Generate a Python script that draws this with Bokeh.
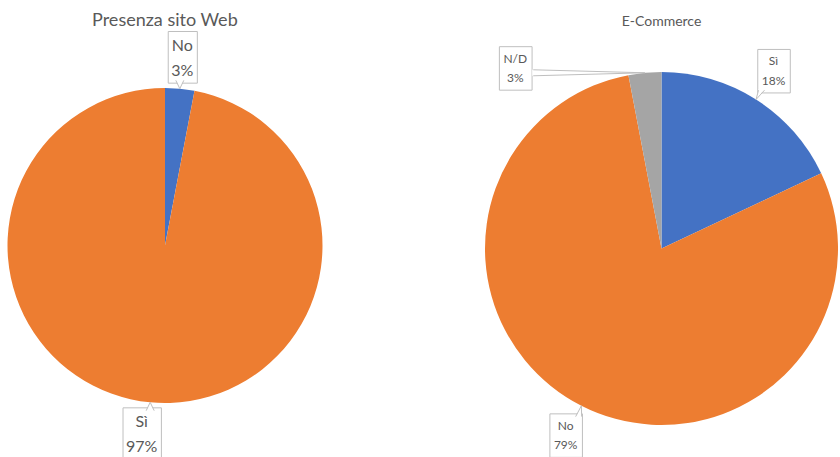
import math
from bokeh.plotting import figure
from bokeh.models import Range1d
from bokeh.core.properties import value
from bokeh.embed import file_html
from bokeh.resources import INLINE

# ---------------- data ----------------
web_title = "Presenza sito Web"
web_cats = ["No", "Sì"]
web_vals = [3, 97]
web_colors = ["#4472C4", "#ED7D31"]

ecom_title = "E-Commerce"
ecom_cats = ["Sì", "No", "N/D"]
ecom_vals = [18, 79, 3]
ecom_colors = ["#4472C4", "#ED7D31", "#A5A5A5"]

# ---------------- layout ----------------
W, H = 840, 457
FONT = "Lato"
TXT = "#595959"
BORDER = "#BFBFBF"


def Y(sy):
    return H - sy


p = figure(width=W, height=H, x_range=Range1d(0, W), y_range=Range1d(0, H),
           output_backend="svg", toolbar_location=None, min_border=0)
p.axis.visible = False
p.grid.visible = False
p.outline_line_color = None
p.background_fill_color = "white"
p.border_fill_color = "white"


def pie(cx, cy, r, cats, vals, colors, title, title_y, title_size,
        label_dist, label_shift, box_size, font_size, line_h, pad, base_half):
    total = sum(vals)
    starts, ends, mids = [], [], []
    cum = 0.0
    for v in vals:
        starts.append(math.pi / 2 - 2 * math.pi * cum / total)
        mids.append(2 * math.pi * (cum + v / 2) / total)  # clockwise from top
        cum += v
        ends.append(math.pi / 2 - 2 * math.pi * cum / total)
    p.wedge(x=cx, y=Y(cy), radius=r, start_angle=starts, end_angle=ends,
            direction="clock", fill_color=colors, line_color=None)

    # title
    p.text(x=[cx], y=[Y(title_y)], text=[title], text_align="center",
           text_baseline="middle", text_font=value(FONT),
           text_font_size=f"{title_size}px", text_color=TXT)

    # labels
    bw, bh = box_size
    lx, ly, texts = [], [], []
    for cat, v, m, (sx, sy) in zip(cats, vals, mids, label_shift):
        lx.append(cx + label_dist * math.sin(m) + sx)
        ly.append(cy - label_dist * math.cos(m) + sy)
        texts.append(f"{cat}\n{v}%")
    p.text(x=lx, y=[Y(v) for v in ly], text=texts, text_align="center",
           text_baseline="middle", text_font=value(FONT),
           text_font_size=f"{font_size}px", text_color=TXT,
           text_line_height=line_h,
           background_fill_color="white", border_line_color=BORDER,
           border_line_width=1, padding=pad)

    # callout pointers
    for m, bx, by in zip(mids, lx, ly):
        tx = cx + r * math.sin(m)
        ty = cy - r * math.cos(m)
        x0, x1 = bx - bw / 2, bx + bw / 2
        y0, y1 = by - bh / 2, by + bh / 2
        ax = min(max(tx, x0), x1)
        ay = min(max(ty, y0), y1)
        vertical = (y0 < ty < y1)
        if vertical:
            inward = 1 if ax == x1 else -1
            b1 = (ax - inward, ay - base_half)
            b2 = (ax - inward, ay + base_half)
            e1 = (ax, ay - base_half)
            e2 = (ax, ay + base_half)
        else:
            inward = 1 if ay == y1 else -1
            bxc = min(max(ax, x0 + base_half + 2), x1 - base_half - 2)
            b1 = (bxc - base_half, ay - inward)
            b2 = (bxc + base_half, ay - inward)
            e1 = (bxc - base_half, ay)
            e2 = (bxc + base_half, ay)
        p.patch(x=[b1[0], tx, b2[0]], y=[Y(b1[1]), Y(ty), Y(b2[1])],
                fill_color="white", line_color=None)
        p.line(x=[e1[0], tx, e2[0]], y=[Y(e1[1]), Y(ty), Y(e2[1])],
               line_color=BORDER, line_width=1)


pie(164.5, 245, 157.5, web_cats, web_vals, web_colors, web_title, 18, 18,
    189, [(0, 0), (-5, 0)], (31, 46), 16, 1.35, [3, 4, 3, 4], 4)
pie(661, 248, 176.5, ecom_cats, ecom_vals, ecom_colors, ecom_title, 20, 14,
    210, [(0, 0), (0, 0), (-126, 29)], (35, 38), 12, 1.3, [4, 5, 4, 5], 3)

open("out.html", "w").write(file_html(p, INLINE))
